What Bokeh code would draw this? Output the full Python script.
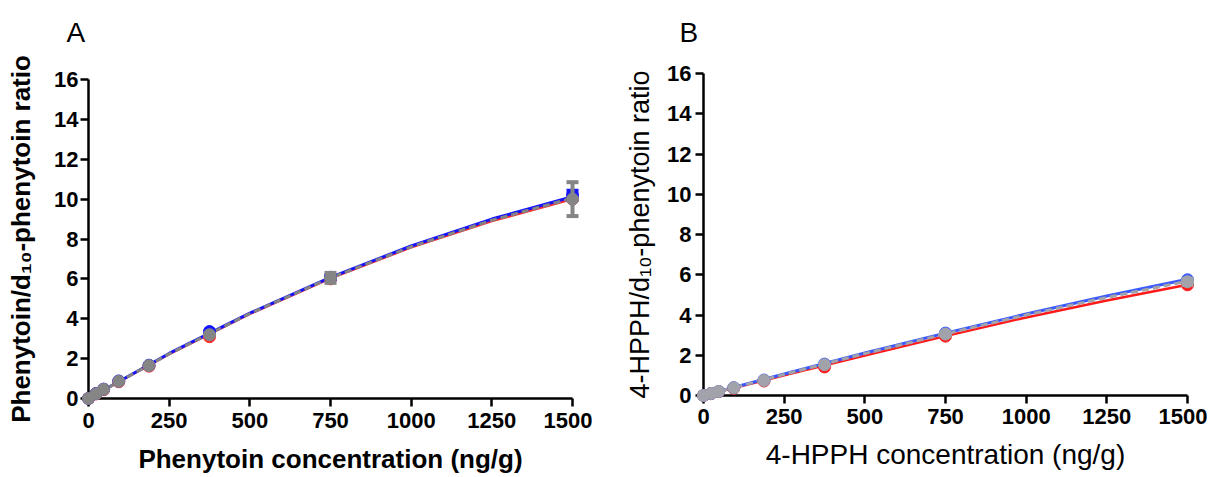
from bokeh.plotting import figure
from bokeh.layouts import row
from bokeh.models import Range1d, FixedTicker, Title
from bokeh.embed import file_html
from bokeh.resources import INLINE

# ---------------- data ----------------
conc = [0, 23.4, 46.9, 93.75, 187.5, 375, 750, 1500]
x_ticks = [0, 250, 500, 750, 1000, 1250, 1500]
y_ticks = [0, 2, 4, 6, 8, 10, 12, 14, 16]

# Panel A: phenytoin
a_red = [0, 0.23, 0.44, 0.84, 1.62, 3.10, 6.00, 10.00]
a_blue = [0, 0.25, 0.47, 0.88, 1.67, 3.36, 6.08, 10.20]
a_gray = [0, 0.24, 0.46, 0.86, 1.65, 3.20, 6.05, 10.00]
a_blue_sd = [0, 0, 0, 0, 0, 0, 0.10, 0.22]
a_gray_sd = [0, 0, 0, 0, 0, 0, 0.25, 0.85]

# Panel B: 4-HPPH
b_red = [0, 0.09, 0.19, 0.36, 0.72, 1.42, 2.95, 5.50]
b_blue = [0, 0.10, 0.20, 0.39, 0.77, 1.56, 3.10, 5.75]
b_gray = [0, 0.10, 0.20, 0.38, 0.75, 1.53, 3.05, 5.65]
b_blue_sd = [0, 0, 0, 0, 0, 0, 0, 0]
b_gray_sd = [0, 0, 0, 0, 0, 0, 0.08, 0.15]

# fitted curves
fit_x = [0, 250, 500, 750, 1000, 1250, 1500]
a_red_fit = [0, 2.22, 4.24, 6.03, 7.58, 8.90, 10.00]
a_blue_fit = [0, 2.26, 4.28, 6.08, 7.65, 9.00, 10.12]
a_gray_fit = [0, 2.24, 4.26, 6.05, 7.61, 8.94, 10.05]
b_red_fit = [0, 1.00, 1.98, 2.95, 3.88, 4.72, 5.50]
b_blue_fit = [0, 1.07, 2.11, 3.10, 4.05, 4.94, 5.78]
b_gray_fit = [0, 1.05, 2.08, 3.06, 4.00, 4.87, 5.68]

FONT = "Liberation Sans"


def make_panel(letter, xlabel, ylabel, reds, blues, grays, blue_sd, gray_sd,
               red_fit, blue_fit, gray_fit, colors, width, height, borders,
               title_style, xlab_size, ylab_size, x_std, y_std, xl_std, yl_std,
               letter_offset, spacer_standoff):
    left, right, top, bottom = borders
    p = figure(width=width, height=height, output_backend="svg", toolbar_location=None,
               x_range=Range1d(0, 1500), y_range=Range1d(0, 16),
               min_border_left=left, min_border_right=right,
               min_border_top=top, min_border_bottom=bottom,
               x_axis_label=xlabel, y_axis_label=ylabel, title=letter)
    p.frame_align = False
    p.outline_line_color = None
    p.grid.visible = False

    # panel letter (outermost title) lifted by an empty spacer title next to the frame
    p.title.text_font = FONT
    p.title.text_font_size = "28px"
    p.title.text_font_style = "normal"
    p.title.text_color = "black"
    p.title.align = "left"
    p.title.offset = letter_offset
    p.title.standoff = 0
    p.add_layout(Title(text=" ", text_font_size="10px", standoff=spacer_standoff), "above")

    for ax, ticks, std, lstd, lsize in ((p.xaxis[0], x_ticks, x_std, xl_std, xlab_size),
                                        (p.yaxis[0], y_ticks, y_std, yl_std, ylab_size)):
        ax.ticker = FixedTicker(ticks=ticks)
        ax.axis_line_width = 2.5
        ax.axis_line_color = "black"
        ax.major_tick_line_width = 2.5
        ax.major_tick_line_color = "black"
        ax.major_tick_out = 8
        ax.major_tick_in = 0
        ax.minor_tick_line_color = None
        ax.major_label_text_font = FONT
        ax.major_label_text_font_style = "bold"
        ax.major_label_text_font_size = "22px"
        ax.major_label_text_color = "black"
        ax.major_label_standoff = std
        ax.axis_label_text_font = FONT
        ax.axis_label_text_font_style = title_style
        ax.axis_label_text_font_size = lsize
        ax.axis_label_text_color = "black"
        ax.axis_label_standoff = lstd

    red_c, blue_c, gray_c = colors
    lvl = "overlay"
    p.line(fit_x, red_fit, line_color=red_c, line_width=2.5, level=lvl)
    p.line(fit_x, blue_fit, line_color=blue_c, line_width=3, level=lvl)
    p.line(fit_x, gray_fit, line_color=gray_c, line_width=3, line_dash="7 4", level=lvl)
    p.scatter(conc, reds, size=12, fill_color=red_c, line_color=red_c, level=lvl)
    p.scatter(conc, blues, size=12, fill_color=blue_c, line_color=blue_c, level=lvl)

    for vals, sds, col in ((blues, blue_sd, blue_c), (grays, gray_sd, gray_c)):
        idx = [i for i, s in enumerate(sds) if s > 0]
        if idx:
            xs = [conc[i] for i in idx]
            up = [vals[i] + sds[i] for i in idx]
            lo = [vals[i] - sds[i] for i in idx]
            p.segment(x0=xs, y0=lo, x1=xs, y1=up, line_color=col, line_width=4, level=lvl)
            p.scatter(xs + xs, up + lo, marker="dash", size=12, line_color=col,
                      line_width=4, level=lvl)

    p.scatter(conc, grays, size=12, fill_color=gray_c, line_color=gray_c, level=lvl)
    return p


pA = make_panel("A", "Phenytoin concentration (ng/g)", "Phenytoin/d\u2081\u2080-phenytoin ratio",
                a_red, a_blue, a_gray, a_blue_sd, a_gray_sd,
                a_red_fit, a_blue_fit, a_gray_fit,
                ("#FF2A2A", "#1414FF", "#858585"), 592, 476, (88, 20, 79, 76),
                "bold", "26px", "26px", 6, 2, 13, 15, -22, 19)

pB = make_panel("B", "4-HPPH concentration (ng/g)", "4-HPPH/d\u2081\u2080-phenytoin ratio",
                b_red, b_blue, b_gray, b_blue_sd, b_gray_sd,
                b_red_fit, b_blue_fit, b_gray_fit,
                ("#FF1A1A", "#3A5AFF", "#A2A2AA"), 615, 476, (111, 20, 73, 81),
                "normal", "28px", "27px", 5, 4, 12, 9, -24, 13)

layout = row(pA, pB)
open("out.html", "w").write(file_html(layout, INLINE))
